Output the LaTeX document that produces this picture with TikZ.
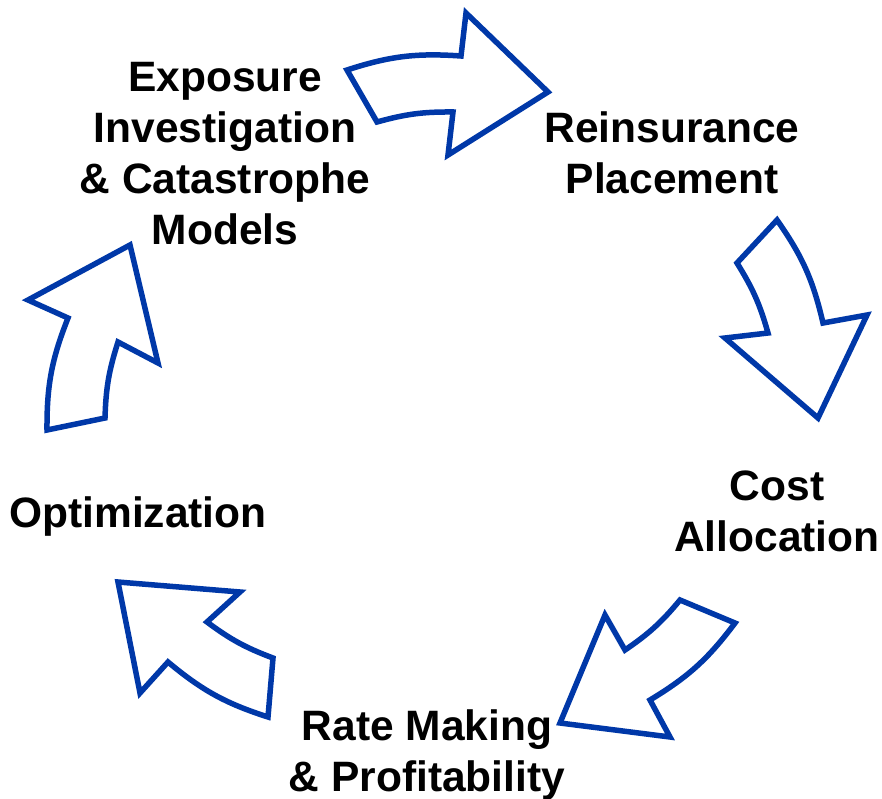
\documentclass[tikz,border=0pt]{standalone}
\usepackage{fontspec}
\setmainfont{Liberation Sans}
\definecolor{arrowblue}{RGB}{0,56,168}
\tikzset{
    cyclearrow/.style={draw=arrowblue, line width=5.5pt, fill=white},
    steplabel/.style={font=\fontsize{42.5}{51}\selectfont\bfseries, align=center, inner sep=0pt}
}

\begin{document}
\begin{tikzpicture}[x=1pt, y=1pt]
    \useasboundingbox (0,0) rectangle (882,-799);
    \draw[cyclearrow] (347,-70) to[bend left=11] (461,-56) -- (466,-13) -- (548,-92) -- (448,-155) -- (453,-112) to[bend right=8] (377,-122) -- cycle;
    \draw[cyclearrow] (777,-220) to[bend left=11] (823,-323) -- (867,-315) -- (818,-418) -- (725,-338) -- (768,-333) to[bend right=8] (737,-263) -- cycle;
    \draw[cyclearrow] (735,-623) to[bend left=11] (650,-700) -- (670,-737) -- (560,-723) -- (605,-615) -- (625,-650) to[bend right=8] (680,-600) -- cycle;
    \draw[cyclearrow] (268,-717) to[bend left=11] (168,-662) -- (140,-693) -- (118,-582) -- (240,-592) -- (207,-622) to[bend right=8] (273,-658) -- cycle;
    \draw[cyclearrow] (47,-430) to[bend left=11] (68,-318) -- (28,-300) -- (130,-245) -- (158,-363) -- (118,-342) to[bend right=8] (105,-418) -- cycle;
    \node[steplabel] (expo) at (225,-154) {Exposure\\Investigation\\\& Catastrophe\\Models};
    \node[steplabel] (reins) at (672,-153) {Reinsurance\\Placement};
    \node[steplabel] (cost) at (777,-511) {Cost\\Allocation};
    \node[steplabel] (rate) at (427,-755) {Rate Making\\\& Profitability};
    \node[steplabel] (optim) at (138,-517) {Optimization};
\end{tikzpicture}
\end{document}
